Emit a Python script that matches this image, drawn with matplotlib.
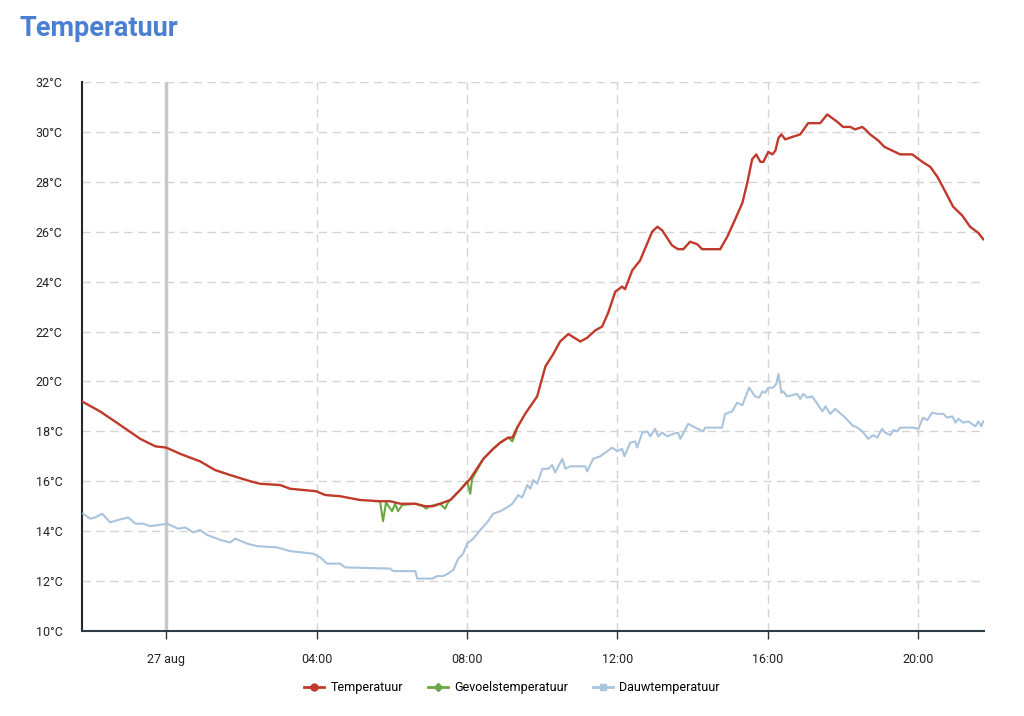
import matplotlib
matplotlib.use("Agg")
import matplotlib.pyplot as plt
from matplotlib.lines import Line2D

# uren t.o.v. 27 aug 00:00 (negatief = 26 aug)
temp_uur = [-2.24, -1.76, -1.22, -0.69, -0.29, 0.0, 0.37, 0.90, 1.30, 1.70, 2.24, 2.50,
            3.03, 3.30, 3.99, 4.23, 4.63, 5.16, 5.69, 5.96, 6.23, 6.63, 6.89, 7.10, 7.29,
            7.56, 7.82, 8.09, 8.44, 8.70, 8.89, 9.10, 9.21, 9.34, 9.55, 9.87, 10.09, 10.30,
            10.48, 10.70, 11.02, 11.20, 11.42, 11.60, 11.76, 11.95, 12.13, 12.21, 12.40,
            12.61, 12.93, 13.07, 13.20, 13.46, 13.62, 13.76, 13.94, 14.13, 14.26, 14.74,
            14.93, 15.14, 15.33, 15.46, 15.59, 15.70, 15.81, 15.89, 16.02, 16.13, 16.21,
            16.29, 16.37, 16.47, 16.66, 16.87, 17.08, 17.40, 17.59, 17.86, 18.01, 18.20,
            18.33, 18.52, 18.60, 18.73, 18.95, 19.11, 19.32, 19.53, 19.85, 20.12, 20.33,
            20.52, 20.68, 20.94, 21.18, 21.39, 21.61, 21.74]
temperatuur = [19.2, 18.8, 18.25, 17.7, 17.4, 17.35, 17.1, 16.8, 16.45, 16.25, 16.0, 15.9,
               15.85, 15.7, 15.6, 15.45, 15.4, 15.25, 15.2, 15.2, 15.1, 15.1, 15.0, 15.0, 15.1,
               15.25, 15.65, 16.1, 16.9, 17.3, 17.55, 17.75, 17.75, 18.15, 18.7, 19.4, 20.6, 21.1,
               21.6, 21.9, 21.6, 21.75, 22.05, 22.2, 22.75, 23.6, 23.8, 23.7, 24.45,
               24.85, 26.0, 26.2, 26.05, 25.45, 25.3, 25.3, 25.6, 25.5, 25.3, 25.3,
               25.8, 26.5, 27.15, 27.95, 28.9, 29.1, 28.8, 28.8, 29.2, 29.1, 29.25,
               29.75, 29.9, 29.7, 29.8, 29.9, 30.35, 30.35, 30.7, 30.4, 30.2, 30.2,
               30.1, 30.2, 30.1, 29.9, 29.65, 29.4, 29.25, 29.1, 29.1, 28.8, 28.6,
               28.2, 27.75, 27.0, 26.65, 26.2, 25.95, 25.7]

gevoel_uur = [5.56, 5.69, 5.77, 5.85, 6.01, 6.09, 6.17, 6.28, 6.63, 6.84, 6.92, 7.00, 7.29,
              7.42, 7.50, 7.82, 8.01, 8.09, 8.14, 8.44, 8.70, 8.89, 9.10, 9.21, 9.29, 9.34]
gevoelstemperatuur = [15.2, 15.2, 14.4, 15.15, 14.8, 15.1, 14.8, 15.05, 15.1, 15.0, 14.9, 15.0,
                      15.1, 14.9, 15.15, 15.65, 16.0, 15.5, 16.1, 16.9, 17.3, 17.55, 17.75, 17.6,
                      17.9, 18.15]

dauw_uur = [-2.21, -2.02, -1.89, -1.70, -1.49, -1.28, -1.01, -0.82, -0.61, -0.43, 0.03, 0.32,
            0.51, 0.72, 0.90, 1.09, 1.44, 1.70, 1.84, 2.16, 2.42, 2.95, 3.30, 3.91, 4.10,
            4.28, 4.63, 4.76, 5.96, 6.04, 6.63, 6.68, 7.08, 7.21, 7.37, 7.50, 7.64, 7.77,
            7.90, 8.01, 8.17, 8.36, 8.54, 8.70, 8.89, 9.07, 9.21, 9.37, 9.47, 9.61, 9.69,
            9.77, 9.87, 10.01, 10.17, 10.27, 10.35, 10.54, 10.62, 10.75, 11.15, 11.20, 11.36,
            11.55, 11.87, 12.00, 12.13, 12.19, 12.35, 12.48, 12.53, 12.67, 12.80, 12.88,
            13.01, 13.09, 13.20, 13.33, 13.49, 13.62, 13.68, 13.89, 14.08, 14.29, 14.34,
            14.79, 14.87, 15.06, 15.19, 15.33, 15.51, 15.67, 15.78, 15.86, 15.94, 16.02,
            16.15, 16.23, 16.29, 16.37, 16.42, 16.52, 16.79, 16.87, 16.95, 17.06, 17.19,
            17.35, 17.46, 17.54, 17.67, 17.80, 18.07, 18.25, 18.39, 18.52, 18.68, 18.81,
            18.92, 19.05, 19.13, 19.27, 19.35, 19.45, 19.53, 19.88, 20.01, 20.14, 20.25,
            20.38, 20.52, 20.68, 20.78, 20.92, 21.00, 21.08, 21.21, 21.34, 21.53, 21.61,
            21.69, 21.74]
dauwtemperatuur = [14.7, 14.5, 14.55, 14.7, 14.35, 14.45, 14.55, 14.3, 14.3, 14.2, 14.3, 14.1,
                   14.15, 13.95, 14.05, 13.85, 13.65, 13.55, 13.7, 13.5, 13.4, 13.35, 13.2, 13.1, 12.95,
                   12.7, 12.7, 12.55, 12.5, 12.4, 12.4, 12.1, 12.1, 12.2, 12.2, 12.3, 12.45, 12.9,
                   13.1, 13.5, 13.7, 14.05, 14.35, 14.7, 14.8, 14.95, 15.1, 15.45, 15.35, 15.85, 15.7,
                   16.05, 15.9, 16.5, 16.5, 16.65, 16.35, 16.9, 16.5, 16.6, 16.6, 16.4, 16.9,
                   17.0, 17.35, 17.2, 17.3, 17.0, 17.55, 17.6, 17.35, 17.95, 18.0, 17.8,
                   18.1, 17.8, 17.95, 17.8, 17.9, 17.95, 17.7, 18.3, 18.15, 18.0, 18.15,
                   18.15, 18.7, 18.8, 19.15, 19.05, 19.75, 19.4, 19.35, 19.6, 19.55, 19.75,
                   19.75, 19.9, 20.3, 19.55, 19.6, 19.4, 19.5, 19.3, 19.5, 19.35, 19.4,
                   19.05, 18.8, 19.0, 18.7, 18.9, 18.55, 18.25, 18.15, 18.0, 17.7, 17.85,
                   17.75, 18.1, 17.95, 17.85, 18.05, 18.0, 18.15, 18.15, 18.1, 18.55, 18.45,
                   18.75, 18.7, 18.7, 18.55, 18.6, 18.35, 18.5, 18.35, 18.4, 18.2, 18.4,
                   18.2, 18.4]

tick_uren = [0, 4, 8, 12, 16, 20]
tick_labels = ["27 aug", "04:00", "08:00", "12:00", "16:00", "20:00"]
y_ticks = list(range(10, 33, 2))

rood = "#c0392b"
groen = "#6aa843"
blauw = "#a9c4dc"

plt.rcParams['font.family'] = ['Roboto', 'DejaVu Sans']

fig = plt.figure(figsize=(10.24, 7.16), dpi=100)
ax = fig.add_axes([82 / 1024, 1 - 631 / 716, (984 - 82) / 1024, (631 - 82) / 716])

ax.plot(gevoel_uur, gevoelstemperatuur, color=groen, lw=1.5, zorder=3)
ax.plot(temp_uur, temperatuur, color=rood, lw=1.7, zorder=4)
ax.plot(dauw_uur, dauwtemperatuur, color=blauw, lw=1.5, zorder=3)

ax.set_xlim(-2.24, 21.76)
ax.set_ylim(10, 32)

# rasterlijnen
for y in y_ticks[1:]:
    ax.axhline(y, color="#d4d4d4", lw=1, ls=(0, (6, 4)), zorder=1)
for x in tick_uren[1:]:
    ax.axvline(x, color="#d4d4d4", lw=1, ls=(0, (6, 4)), zorder=1)
ax.axvline(0, color="#c8c8c8", lw=2.5, zorder=1)

ax.set_yticks(y_ticks)
ax.set_yticklabels([f"{v}°C" for v in y_ticks])
ax.set_xticks(tick_uren)
ax.set_xticklabels(tick_labels)
ax.tick_params(axis="y", length=0, pad=14, labelsize=9, labelcolor="#222222")
ax.tick_params(axis="x", length=6, width=1, color="#333333", pad=10, labelsize=9,
               labelcolor="#222222")

for s in ["top", "right"]:
    ax.spines[s].set_visible(False)
ax.spines["left"].set_color("#1f2a33")
ax.spines["left"].set_linewidth(1.5)
ax.spines["bottom"].set_color("#2e3d45")
ax.spines["bottom"].set_linewidth(1.5)

fig.text(20 / 1024, 1 - 28 / 716, "Temperatuur", color="#4a7fd1", fontsize=19.5,
         fontweight="bold", va="center", ha="left")

handles = [
    Line2D([], [], color=rood, lw=2, marker="o", markersize=5),
    Line2D([], [], color=groen, lw=2, marker="D", markersize=4),
    Line2D([], [], color=blauw, lw=2, marker="s", markersize=5),
]
fig.legend(handles, ["Temperatuur", "Gevoelstemperatuur", "Dauwtemperatuur"],
           loc="center", bbox_to_anchor=(0.5, 1 - 688 / 716), ncol=3, frameon=False,
           fontsize=9, handlelength=1.6, columnspacing=2.0, handletextpad=0.5)

fig.savefig("out.png", dpi=100)
